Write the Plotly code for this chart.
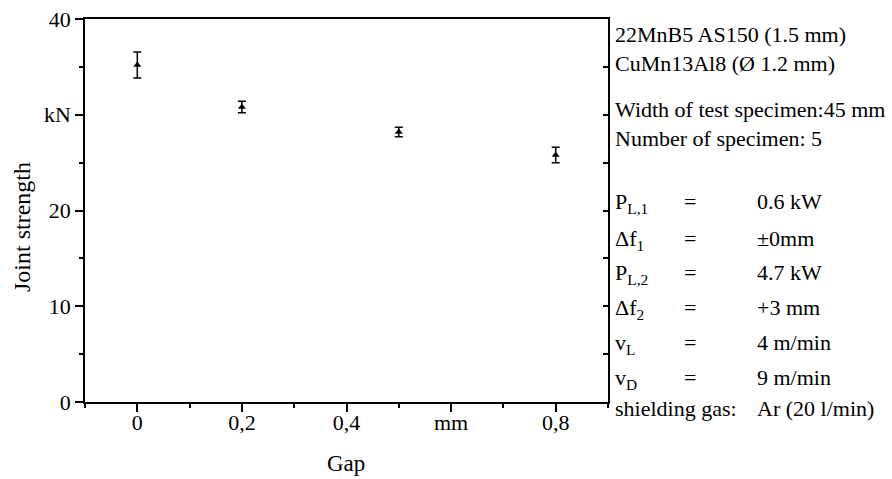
import plotly.graph_objects as go

# Data
gap_mm = [0.0, 0.2, 0.5, 0.8]
joint_strength_kN = [35.2, 30.8, 28.2, 25.8]
strength_err = [1.35, 0.6, 0.5, 0.8]

x_tickvals = [0, 0.2, 0.4, 0.6, 0.8]
x_ticktext = ["0", "0,2", "0,4", "mm", "0,8"]
y_tickvals = [0, 10, 20, 30, 40]
y_ticktext = ["0", "10", "20", "kN", "40"]

header_lines = ["22MnB5 AS150 (1.5 mm)", "CuMn13Al8 (Ø 1.2 mm)",
                "Width of test specimen:45 mm", "Number of specimen: 5"]
param_labels = ["P<sub>L,1</sub>", "Δf<sub>1</sub>", "P<sub>L,2</sub>", "Δf<sub>2</sub>",
                "v<sub>L</sub>", "v<sub>D</sub>"]
param_values = ["0.6 kW", "±0mm", "4.7 kW", "+3 mm", "4 m/min", "9 m/min"]
gas_label = "shielding gas:"
gas_value = "Ar (20 l/min)"

FONT = "Liberation Serif"
FS = 22
W, H = 892, 479
L, R, T, B = 85, 608, 19, 402

def px_x(p):
    return (p - L) / (R - L)

def px_y(p):
    return 1 - (p - T) / (B - T)

fig = go.Figure()
fig.add_trace(go.Scatter(
    x=gap_mm, y=joint_strength_kN, mode="markers",
    marker=dict(symbol="triangle-up", size=7, color="black"),
    error_y=dict(type="data", array=strength_err, visible=True,
                 color="black", thickness=1.5, width=4),
    showlegend=False, hoverinfo="skip"))
# helper trace for right mirrored axis
fig.add_trace(go.Scatter(x=gap_mm[:1], y=joint_strength_kN[:1], yaxis="y2",
                         mode="markers", marker=dict(opacity=0),
                         showlegend=False, hoverinfo="skip"))

fig.update_layout(
    template="none",
    width=W, height=H,
    margin=dict(l=L, r=W - R, t=T, b=H - B, autoexpand=False),
    paper_bgcolor="white", plot_bgcolor="white",
    font=dict(family=FONT, size=FS, color="black"),
    xaxis=dict(range=[-0.1, 0.9], tickmode="array", tickvals=x_tickvals,
               ticktext=x_ticktext, ticks="outside", ticklen=8, tickwidth=1.5,
               tickcolor="black", showline=True, linecolor="black", linewidth=1.5,
               mirror=True, showgrid=False, zeroline=False, automargin=False,
               ticklabelstandoff=-8,
               minor=dict(dtick=0.1, tick0=0, ticks="outside", ticklen=4,
                          tickwidth=1.5, tickcolor="black", showgrid=False),
               tickfont=dict(family=FONT, size=FS)),
    yaxis=dict(range=[0, 40], tickmode="array", tickvals=y_tickvals,
               ticktext=y_ticktext, ticks="outside", ticklen=8, tickwidth=1.5,
               tickcolor="black", showline=True, linecolor="black", linewidth=1.5,
               mirror=True, showgrid=False, zeroline=False, automargin=False,
               minor=dict(dtick=5, tick0=0, ticks="outside", ticklen=4,
                          tickwidth=1.5, tickcolor="black", showgrid=False),
               tickfont=dict(family=FONT, size=FS)),
    yaxis2=dict(range=[0, 40], overlaying="y", side="right", ticks="inside",
                dtick=5, tick0=0, ticklen=5, tickwidth=1.5, tickcolor="black",
                showticklabels=False, showgrid=False, zeroline=False,
                showline=False, automargin=False),
)

ann = []
ann.append(dict(text="Joint strength", textangle=-90, xref="paper", yref="paper",
                x=px_x(22), y=px_y(227), showarrow=False, xanchor="center", yanchor="middle",
                font=dict(family=FONT, size=24)))
ann.append(dict(text="Gap", xref="paper", yref="paper",
                x=px_x(346), y=px_y(464), showarrow=False, xanchor="center", yanchor="middle",
                font=dict(family=FONT, size=23)))

header_y = [35, 63, 110, 138]
for t, yy in zip(header_lines, header_y):
    ann.append(dict(text=t, xref="paper", yref="paper", x=px_x(613), y=px_y(yy),
                    showarrow=False, xanchor="left", yanchor="middle",
                    font=dict(family=FONT, size=FS)))

param_y = [200, 237, 271, 306, 341, 376]
for lab, val, yy in zip(param_labels, param_values, param_y):
    top = yy - 13
    ann.append(dict(text=lab, xref="paper", yref="paper", x=px_x(613), y=px_y(top),
                    showarrow=False, xanchor="left", yanchor="top",
                    font=dict(family=FONT, size=FS)))
    ann.append(dict(text="=", xref="paper", yref="paper", x=px_x(690), y=px_y(top),
                    showarrow=False, xanchor="center", yanchor="top",
                    font=dict(family=FONT, size=FS)))
    ann.append(dict(text=val, xref="paper", yref="paper", x=px_x(755), y=px_y(top),
                    showarrow=False, xanchor="left", yanchor="top",
                    font=dict(family=FONT, size=FS)))
ann.append(dict(text=gas_label, xref="paper", yref="paper", x=px_x(613), y=px_y(408),
                showarrow=False, xanchor="left", yanchor="middle",
                font=dict(family=FONT, size=FS)))
ann.append(dict(text=gas_value, xref="paper", yref="paper", x=px_x(755), y=px_y(408),
                showarrow=False, xanchor="left", yanchor="middle",
                font=dict(family=FONT, size=FS)))
fig.update_layout(annotations=ann)

fig.write_html("out.html", config={"displayModeBar": False},
               post_script="document.body.style.margin='0px';document.body.style.overflow='hidden';")
